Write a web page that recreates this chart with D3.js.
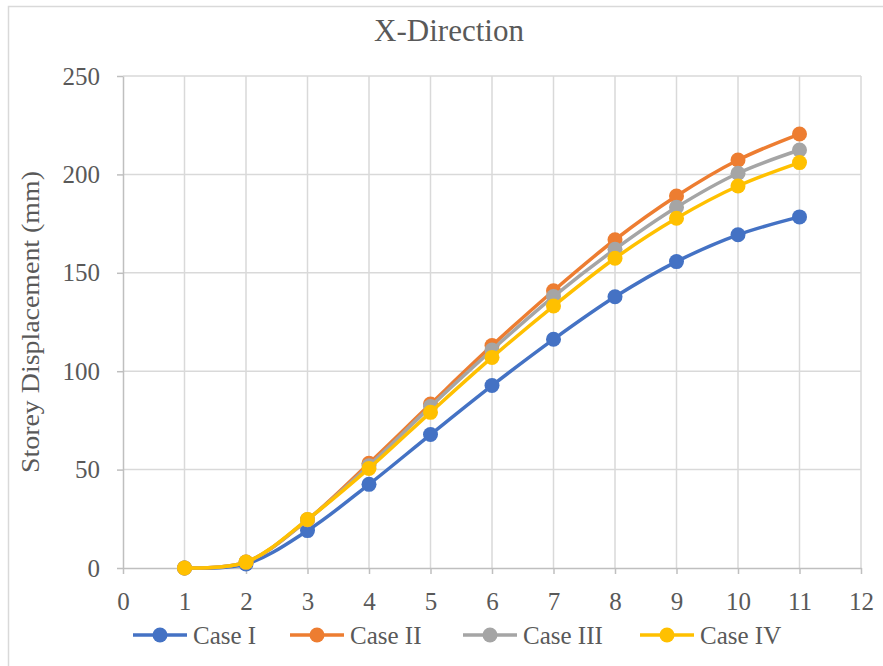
<!DOCTYPE html>
<html>
<head>
<meta charset="utf-8">
<script src="https://cdn.jsdelivr.net/npm/d3@7"></script>
<style>
  body { margin: 0; background: #fff; }
  svg { display: block; font-family: "Liberation Serif", "DejaVu Serif", serif; }
</style>
</head>
<body>
<div id="chart"></div>
<script>
// data
const storeys = [1, 2, 3, 4, 5, 6, 7, 8, 9, 10, 11]
const caseI   = [0, 2, 19, 42.5, 67.8, 92.7, 116.2, 137.8, 155.7, 169.3, 178.4]
const caseII  = [0, 3, 24.5, 53.2, 83.3, 113, 140.9, 166.8, 189, 207.3, 220.5]
const caseIII = [0, 3, 24.5, 52, 82, 110.8, 137.9, 162, 183.3, 200.6, 212.4]
const caseIV  = [0, 3, 24.7, 50.6, 79.1, 107, 133.1, 157.4, 177.7, 194.1, 206]
const seriesNames = ["Case I", "Case II", "Case III", "Case IV"]
const seriesColors = ["#4472C4", "#ED7D31", "#A5A5A5", "#FFC000"]
const xTicks = d3.range(0, 13)
const yTicks = [0, 50, 100, 150, 200, 250]

const series = [caseI, caseII, caseIII, caseIV].map((vals, i) => ({
    name: seriesNames[i],
    color: seriesColors[i],
    points: vals.map((v, j) => ({x: storeys[j], y: v}))
}))

const width = 883
const height = 666
const margin = {top: 76, right: 22, bottom: 98, left: 123}
const innerWidth = width - margin.left - margin.right
const innerHeight = height - margin.top - margin.bottom

const svg = d3.select("#chart").append("svg")
              .attr("width", width)
              .attr("height", height)

// outer chart border (only top and left edges are inside the picture)
svg.append("path")
   .attr("d", `M8.5,${height} V6.5 H${width}`)
   .attr("fill", "none")
   .attr("stroke", "#d9d9d9")
   .attr("stroke-width", 1.5)

const chart = svg.append("g")
                 .attr("transform", `translate(${margin.left}, ${margin.top})`)

const xScale = d3.scaleLinear().domain([0, 12]).range([0, innerWidth])
const yScale = d3.scaleLinear().domain([0, 250]).range([innerHeight, 0])

// grid
chart.selectAll(".vgrid")
     .data(xTicks.slice(1))
     .join("line")
     .attr("x1", d => xScale(d))
     .attr("x2", d => xScale(d))
     .attr("y1", 0)
     .attr("y2", innerHeight)
     .attr("stroke", "#d9d9d9")
     .attr("stroke-width", 1.5)
chart.selectAll(".hgrid")
     .data(yTicks.slice(1))
     .join("line")
     .attr("x1", 0)
     .attr("x2", innerWidth)
     .attr("y1", d => yScale(d))
     .attr("y2", d => yScale(d))
     .attr("stroke", "#d9d9d9")
     .attr("stroke-width", 1.5)

// axes
const xAxis = d3.axisBottom(xScale).tickValues(xTicks).tickSize(6).tickSizeOuter(0)
const yAxis = d3.axisLeft(yScale).tickValues(yTicks).tickSize(6).tickSizeOuter(0)
const gx = chart.append("g")
     .attr("transform", `translate(0, ${innerHeight})`)
     .call(xAxis)
const gy = chart.append("g").call(yAxis)
for (const g of [gx, gy]) {
    g.selectAll("path, line").attr("stroke", "#bfbfbf").attr("stroke-width", 1.5)
    g.selectAll("text")
     .attr("fill", "#595959")
     .attr("font-size", "25px")
     .attr("font-family", "Liberation Serif")
}
gx.selectAll("text").attr("dy", null).attr("y", 42)
gy.selectAll("text").attr("x", -23)

// lines
const line = d3.line()
               .x(d => xScale(d.x))
               .y(d => yScale(d.y))
               .curve(d3.curveCatmullRom.alpha(0.5))

const sg = chart.selectAll(".series")
                .data(series)
                .join("g")
sg.append("path")
  .attr("d", d => line(d.points))
  .attr("fill", "none")
  .attr("stroke", d => d.color)
  .attr("stroke-width", 3.5)
  .attr("stroke-linecap", "round")
sg.selectAll("circle")
  .data(d => d.points.map(p => ({...p, color: d.color})))
  .join("circle")
  .attr("cx", d => xScale(d.x))
  .attr("cy", d => yScale(d.y))
  .attr("r", 7.5)
  .attr("fill", d => d.color)

// title
svg.append("text")
   .attr("x", 449)
   .attr("y", 41)
   .attr("text-anchor", "middle")
   .attr("font-size", "31px")
   .attr("fill", "#595959")
   .text("X-Direction")

// y axis title
svg.append("text")
   .attr("transform", `translate(30, 322) rotate(-90)`)
   .attr("text-anchor", "middle")
   .attr("dy", "0.35em")
   .attr("font-size", "25px")
   .attr("textLength", 302)
   .attr("lengthAdjust", "spacingAndGlyphs")
   .attr("fill", "#595959")
   .text("Storey Displacement (mm)")

// legend
const legendX = [133, 290, 463, 640]
const legend = svg.selectAll(".legend")
                  .data(series)
                  .join("g")
                  .attr("transform", (d, i) => `translate(${legendX[i]}, 635)`)
legend.append("line")
      .attr("x1", 0).attr("x2", 54)
      .attr("stroke", d => d.color)
      .attr("stroke-width", 3.5)
legend.append("circle")
      .attr("cx", 27)
      .attr("r", 7.5)
      .attr("fill", d => d.color)
legend.append("text")
      .attr("x", 60)
      .attr("dy", "0.35em")
      .attr("font-size", "25px")
      .attr("fill", "#595959")
      .text(d => d.name)
</script>
</body>
</html>
